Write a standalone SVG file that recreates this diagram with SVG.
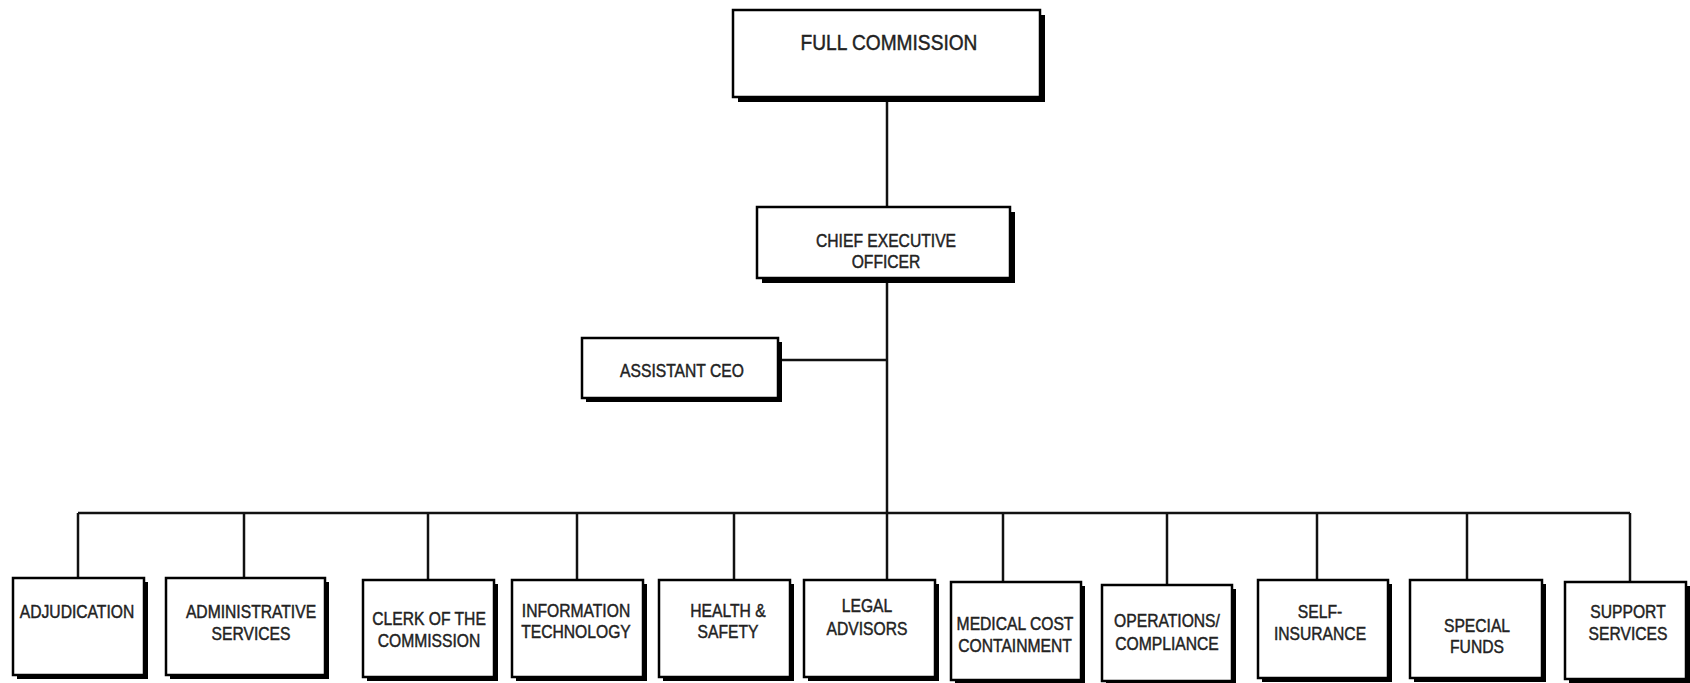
<svg xmlns="http://www.w3.org/2000/svg" width="1690" height="683" viewBox="0 0 1690 683">
<style>
.sh{fill:#000}
.bx{fill:#fff;stroke:#000;stroke-width:2.5}
.t{font-family:"Liberation Sans",Arial,sans-serif;font-size:18px;fill:#222;stroke:#222;stroke-width:0.45;text-anchor:middle}
.big{font-size:22px}
.ln{stroke:#111;stroke-width:2.5;fill:none}
</style>
<rect width="1690" height="683" fill="#fff"/>
<g id="connectors">
<line class="ln" x1="887" y1="97" x2="887" y2="207"/>
<line class="ln" x1="887" y1="278" x2="887" y2="513"/>
<line class="ln" x1="778" y1="360" x2="887" y2="360"/>
<line class="ln" x1="78" y1="513" x2="1630" y2="513"/>
<line class="ln" x1="78" y1="513" x2="78" y2="578"/>
<line class="ln" x1="244" y1="513" x2="244" y2="578"/>
<line class="ln" x1="428" y1="513" x2="428" y2="580"/>
<line class="ln" x1="577" y1="513" x2="577" y2="580"/>
<line class="ln" x1="734" y1="513" x2="734" y2="580"/>
<line class="ln" x1="887" y1="513" x2="887" y2="580"/>
<line class="ln" x1="1003" y1="513" x2="1003" y2="582"/>
<line class="ln" x1="1167" y1="513" x2="1167" y2="585"/>
<line class="ln" x1="1317" y1="513" x2="1317" y2="580"/>
<line class="ln" x1="1467" y1="513" x2="1467" y2="580"/>
<line class="ln" x1="1630" y1="513" x2="1630" y2="582"/>
</g>
<g id="full-commission">
<rect class="sh" x="738" y="15" width="307" height="87"/>
<rect class="bx" x="733" y="10" width="307" height="87"/>
<text class="t big" transform="translate(889,50) scale(0.87,1)">FULL COMMISSION</text>
</g>
<g id="ceo">
<rect class="sh" x="762" y="212" width="253" height="71"/>
<rect class="bx" x="757" y="207" width="253" height="71"/>
<text class="t" transform="translate(886,247) scale(0.87,1)"><tspan x="0" y="0">CHIEF EXECUTIVE</tspan><tspan x="0" y="21">OFFICER</tspan></text>
</g>
<g id="assistant-ceo">
<rect class="sh" x="586" y="342" width="196" height="60"/>
<rect class="bx" x="582" y="338" width="196" height="60"/>
<text class="t" transform="translate(682,377) scale(0.87,1)">ASSISTANT CEO</text>
</g>
<g id="adjudication">
<rect class="sh" x="17" y="582" width="131" height="97"/>
<rect class="bx" x="13" y="578" width="131" height="97"/>
<text class="t" transform="translate(77,618) scale(0.87,1)">ADJUDICATION</text>
</g>
<g id="administrative-services">
<rect class="sh" x="170" y="582" width="159" height="97"/>
<rect class="bx" x="166" y="578" width="159" height="97"/>
<text class="t" transform="translate(251,618) scale(0.87,1)"><tspan x="0" y="0">ADMINISTRATIVE</tspan><tspan x="0" y="22">SERVICES</tspan></text>
</g>
<g id="clerk">
<rect class="sh" x="367" y="584" width="131" height="97"/>
<rect class="bx" x="363" y="580" width="131" height="97"/>
<text class="t" transform="translate(429,625) scale(0.87,1)"><tspan x="0" y="0">CLERK OF THE</tspan><tspan x="0" y="22">COMMISSION</tspan></text>
</g>
<g id="information-technology">
<rect class="sh" x="516" y="584" width="131" height="97"/>
<rect class="bx" x="512" y="580" width="131" height="97"/>
<text class="t" transform="translate(576,617) scale(0.87,1)"><tspan x="0" y="0">INFORMATION</tspan><tspan x="0" y="21">TECHNOLOGY</tspan></text>
</g>
<g id="health-safety">
<rect class="sh" x="663" y="584" width="131" height="97"/>
<rect class="bx" x="659" y="580" width="131" height="97"/>
<text class="t" transform="translate(728,617) scale(0.87,1)"><tspan x="0" y="0">HEALTH &amp;</tspan><tspan x="0" y="21">SAFETY</tspan></text>
</g>
<g id="legal-advisors">
<rect class="sh" x="808" y="584" width="131" height="97"/>
<rect class="bx" x="804" y="580" width="131" height="97"/>
<text class="t" transform="translate(867,612) scale(0.87,1)"><tspan x="0" y="0">LEGAL</tspan><tspan x="0" y="23">ADVISORS</tspan></text>
</g>
<g id="medical-cost">
<rect class="sh" x="955" y="586" width="130" height="98"/>
<rect class="bx" x="951" y="582" width="130" height="98"/>
<text class="t" transform="translate(1015,630) scale(0.87,1)"><tspan x="0" y="0">MEDICAL COST</tspan><tspan x="0" y="22">CONTAINMENT</tspan></text>
</g>
<g id="operations-compliance">
<rect class="sh" x="1106" y="589" width="130" height="96"/>
<rect class="bx" x="1102" y="585" width="130" height="96"/>
<text class="t" transform="translate(1167,627) scale(0.87,1)"><tspan x="0" y="0">OPERATIONS/</tspan><tspan x="0" y="23">COMPLIANCE</tspan></text>
</g>
<g id="self-insurance">
<rect class="sh" x="1262" y="584" width="130" height="98"/>
<rect class="bx" x="1258" y="580" width="130" height="98"/>
<text class="t" transform="translate(1320,618) scale(0.87,1)"><tspan x="0" y="0">SELF-</tspan><tspan x="0" y="22">INSURANCE</tspan></text>
</g>
<g id="special-funds">
<rect class="sh" x="1414" y="584" width="132" height="98"/>
<rect class="bx" x="1410" y="580" width="132" height="98"/>
<text class="t" transform="translate(1477,632) scale(0.87,1)"><tspan x="0" y="0">SPECIAL</tspan><tspan x="0" y="21">FUNDS</tspan></text>
</g>
<g id="support-services">
<rect class="sh" x="1569" y="586" width="121" height="97"/>
<rect class="bx" x="1565" y="582" width="121" height="97"/>
<text class="t" transform="translate(1628,618) scale(0.87,1)"><tspan x="0" y="0">SUPPORT</tspan><tspan x="0" y="22">SERVICES</tspan></text>
</g>
</svg>
